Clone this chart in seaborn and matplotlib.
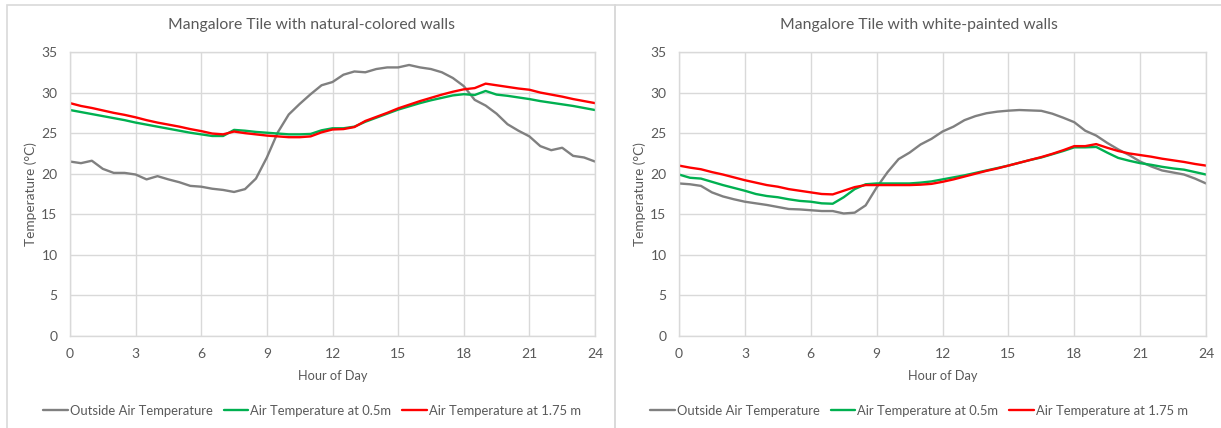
import numpy as np
import pandas as pd
import matplotlib
matplotlib.use("Agg")
import matplotlib.pyplot as plt
from matplotlib.patches import Rectangle
from matplotlib.lines import Line2D
import seaborn as sns

# Hour of day, half-hour resolution
hours = [i * 0.5 for i in range(49)]

# Panel 1: Mangalore tile, natural-colored walls (deg C)
nat_outside = [21.5, 21.3, 21.6, 20.6, 20.1, 20.1, 19.9, 19.3, 19.7, 19.3,
               18.95, 18.5, 18.4, 18.15, 18.0, 17.75, 18.1, 19.4, 22.0, 25.1,
               27.3, 28.6, 29.8, 30.9, 31.3, 32.2, 32.6, 32.5, 32.9, 33.1,
               33.1, 33.4, 33.1, 32.9, 32.5, 31.8, 30.8, 29.1, 28.4, 27.4,
               26.1, 25.3, 24.6, 23.4, 22.9, 23.2, 22.2, 22.0, 21.5]
nat_05m = [27.85, 27.6, 27.35, 27.1, 26.85, 26.6, 26.3, 26.05, 25.8, 25.55,
           25.3, 25.05, 24.85, 24.65, 24.65, 25.4, 25.3, 25.15, 25.05, 24.95,
           24.85, 24.85, 24.9, 25.35, 25.6, 25.6, 25.8, 26.4, 26.9, 27.4,
           27.9, 28.3, 28.7, 29.05, 29.35, 29.65, 29.8, 29.7, 30.2, 29.75,
           29.6, 29.4, 29.2, 28.95, 28.75, 28.55, 28.35, 28.1, 27.85]
nat_175m = [28.7, 28.35, 28.1, 27.8, 27.5, 27.25, 26.95, 26.6, 26.3, 26.05,
            25.8, 25.5, 25.25, 24.95, 24.85, 25.2, 25.0, 24.85, 24.7, 24.6,
            24.5, 24.5, 24.6, 25.1, 25.45, 25.5, 25.75, 26.5, 27.0, 27.5,
            28.05, 28.5, 28.95, 29.35, 29.75, 30.1, 30.4, 30.55, 31.1, 30.9,
            30.7, 30.5, 30.35, 30.0, 29.75, 29.5, 29.2, 28.95, 28.7]

# Panel 2: Mangalore tile, white-painted walls (deg C)
wht_outside = [18.8, 18.7, 18.5, 17.7, 17.2, 16.85, 16.55, 16.35, 16.15, 15.9,
               15.65, 15.6, 15.5, 15.4, 15.4, 15.1, 15.2, 16.1, 18.3, 20.2,
               21.8, 22.6, 23.6, 24.3, 25.2, 25.8, 26.6, 27.1, 27.45, 27.65,
               27.77, 27.85, 27.8, 27.75, 27.4, 26.9, 26.35, 25.3, 24.7, 23.8,
               23.0, 22.3, 21.5, 20.9, 20.4, 20.15, 19.9, 19.4, 18.8]
wht_05m = [19.9, 19.5, 19.4, 19.0, 18.6, 18.25, 17.9, 17.5, 17.25, 17.1,
           16.85, 16.65, 16.55, 16.35, 16.3, 17.1, 18.1, 18.7, 18.8, 18.8,
           18.8, 18.8, 18.9, 19.05, 19.3, 19.55, 19.8, 20.1, 20.4, 20.7,
           21.0, 21.35, 21.7, 22.0, 22.4, 22.8, 23.25, 23.25, 23.3, 22.6,
           21.95, 21.6, 21.3, 21.1, 20.85, 20.65, 20.5, 20.2, 19.9]
wht_175m = [21.0, 20.75, 20.55, 20.2, 19.9, 19.55, 19.2, 18.9, 18.6, 18.4,
            18.1, 17.9, 17.7, 17.5, 17.45, 17.9, 18.35, 18.6, 18.6, 18.6,
            18.6, 18.6, 18.65, 18.75, 19.0, 19.3, 19.65, 20.0, 20.35, 20.65,
            21.0, 21.35, 21.7, 22.05, 22.45, 22.9, 23.4, 23.4, 23.65, 23.2,
            22.8, 22.5, 22.3, 22.1, 21.85, 21.65, 21.45, 21.2, 21.0]

series_names = ["Outside Air Temperature", "Air Temperature at 0.5m",
                "Air Temperature at 1.75 m"]
series_colors = ["#808080", "#00b050", "#ff0000"]
panel_titles = ["Mangalore Tile with natural-colored walls",
                "Mangalore Tile with white-painted walls"]
x_ticks = [0, 3, 6, 9, 12, 15, 18, 21, 24]
y_ticks = [0, 5, 10, 15, 20, 25, 30, 35]

sns.set_theme(style="white")
plt.rcParams["font.family"] = ["Lato", "DejaVu Sans"]

TEXT = "#595959"
GRID = "#d9d9d9"

W, H = 1221, 428
fig = plt.figure(figsize=(W / 100, H / 100), dpi=100)

def fx(px):
    return px / W

def fy(py):
    return 1 - py / H

# chart-area frames
fig.patches.append(Rectangle((fx(7), fy(440)), fx(608), fy(5) - fy(440),
                             transform=fig.transFigure, fill=False,
                             edgecolor=GRID, lw=1.2))
fig.patches.append(Rectangle((fx(615), fy(440)), fx(620), fy(5) - fy(440),
                             transform=fig.transFigure, fill=False,
                             edgecolor=GRID, lw=1.2))

panels = [
    (nat_outside, nat_05m, nat_175m),
    (wht_outside, wht_05m, wht_175m),
]
axes_px = [(70, 595), (679, 1206)]
box_centers = [312, 919]

palette = dict(zip(series_names, series_colors))

for (vals, (x0, x1), title, cx) in zip(panels, axes_px, panel_titles, box_centers):
    ax = fig.add_axes([fx(x0), fy(336), fx(x1 - x0), fy(52) - fy(336)])
    df = pd.DataFrame({
        "Hour": hours * 3,
        "Temp": list(vals[0]) + list(vals[1]) + list(vals[2]),
        "Series": sum([[n] * len(hours) for n in series_names], []),
    })
    sns.lineplot(data=df, x="Hour", y="Temp", hue="Series", palette=palette,
                 hue_order=series_names, linewidth=1.7, legend=False, ax=ax)
    ax.set_xlim(0, 24)
    ax.set_ylim(0, 35)
    ax.set_xticks(x_ticks)
    ax.set_yticks(y_ticks)
    ax.grid(True, color=GRID, lw=1.0)
    ax.set_axisbelow(True)
    for s in ax.spines.values():
        s.set_color(GRID)
        s.set_linewidth(1.0)
    ax.tick_params(length=0, colors=TEXT, labelsize=10)
    ax.tick_params(axis="y", pad=9)
    ax.tick_params(axis="x", pad=9)
    ax.set_xlabel("Hour of Day", color=TEXT, fontsize=9.2, labelpad=7)
    ax.set_ylabel("Temperature (°C)", color=TEXT, fontsize=9.8, labelpad=3)
    fig.text(fx(cx), fy(25), title, ha="center", va="center",
             color=TEXT, fontsize=11.3)
    handles = [Line2D([0], [0], color=c, lw=1.7) for c in series_colors]
    fig.legend(handles, series_names, loc="center",
               bbox_to_anchor=(fx(cx), fy(411)), ncol=3, frameon=False,
               fontsize=9.4, labelcolor=TEXT, handlelength=1.9,
               handletextpad=0.15, columnspacing=0.8)

fig.savefig("out.png", dpi=100)
